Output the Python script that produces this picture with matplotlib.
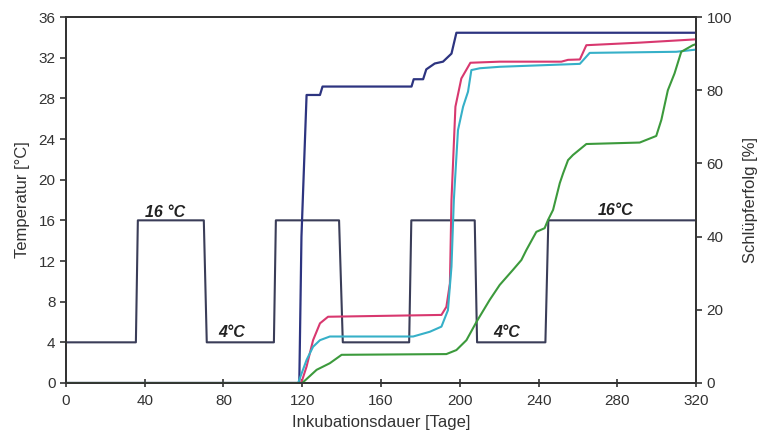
import matplotlib
matplotlib.use("Agg")
import matplotlib.pyplot as plt

plt.rcParams['font.family'] = ['Liberation Sans', 'DejaVu Sans']

# temperature regime (days, degC)
temp_days = [0, 35.5, 36.5, 70, 71.5, 105.6, 106.6, 138.7, 140.6, 174.3, 175.4, 207.6, 208.8, 243.5, 245, 320]
temp_vals = [4, 4, 16, 16, 4, 4, 16, 16, 4, 4, 16, 16, 4, 4, 16, 16]

# hatching success (days, %)
navy_days = [0, 118.5, 119.6, 122.2, 129, 130.3, 175.5, 176.6, 181.4, 183, 187.3, 191.5, 195.8, 198.3, 320]
navy_vals = [0, 0, 40, 78.7, 78.7, 81, 81, 83, 83, 85.7, 87.3, 87.8, 90, 95.7, 95.7]

pink_days = [0, 119.5, 122.2, 125.5, 129, 133.1, 190.7, 193.2, 195, 195.8, 197.8, 200.8, 205.4, 220.3,
             251.6, 255, 261, 264.3, 291.4, 320]
pink_vals = [0, 0, 4.5, 11.7, 16.3, 18.1, 18.6, 20.8, 27.2, 50, 75.5, 83.2, 87.5, 87.8,
             87.8, 88.3, 88.4, 92.3, 93, 93.9]

cyan_days = [0, 117.9, 122.2, 125.5, 129, 134, 176.3, 184.8, 190.7, 194, 195.8, 197, 199.1, 201.7, 204.2,
             205.9, 210.2, 220.3, 261, 266, 310, 320]
cyan_vals = [0, 0, 6.3, 9.9, 11.7, 12.7, 12.7, 14, 15.4, 19.9, 31.8, 50, 69.1, 75.5, 79.6,
             85.5, 86, 86.4, 87.2, 90.2, 90.5, 91.1]

green_days = [0, 120, 127.3, 134, 140, 193.2, 198.3, 203.4, 208.5, 215.2, 220.3, 227, 231.3, 233.8, 238.9,
              243.1, 244.8, 247.4, 250.8, 252.5, 255, 257.5, 264.3, 291.4, 299.8, 302.4, 305.7, 309.1,
              312.5, 318.4, 320]
green_vals = [0, 0, 3.6, 5.4, 7.7, 7.9, 9, 11.7, 16.7, 22.7, 26.8, 30.9, 33.6, 36.3, 41.3,
              42.3, 44.5, 47.3, 54.6, 57.3, 60.9, 62.3, 65.3, 65.7, 67.5, 71.9, 80, 84.6,
              90.5, 92.3, 92.6]

labels = [(50.3, 16.35, "16 °C"), (84.3, 4.55, "4°C"), (223.8, 4.55, "4°C"), (278.9, 16.5, "16°C")]

fig = plt.figure(figsize=(7.62, 4.42), dpi=100)
ax = fig.add_axes([0.0866, 0.1335, 0.8268, 0.828])
ax2 = ax.twinx()

ax.plot(temp_days, temp_vals, color="#3a3d58", lw=1.5, zorder=2)
ax2.plot(navy_days, navy_vals, color="#2d3480", lw=1.6)
ax2.plot(pink_days, pink_vals, color="#d8386f", lw=1.5)
ax2.plot(cyan_days, cyan_vals, color="#36b0c8", lw=1.5)
ax2.plot(green_days, green_vals, color="#3c9a3c", lw=1.5)

for x, y, s in labels:
    ax.text(x, y, s, ha="center", va="baseline", fontsize=11.5, fontweight="bold", fontstyle="italic",
            color="#222222")

ax.set_xlim(0, 320)
ax.set_ylim(0, 36)
ax2.set_ylim(0, 100)
ax.set_xticks(range(0, 321, 40))
ax.set_yticks(range(0, 37, 4))
ax2.set_yticks(range(0, 101, 20))

tick_col = "#333333"
ax.tick_params(axis="x", direction="inout", length=6, width=1.2, colors=tick_col, labelsize=11, pad=5)
ax.tick_params(axis="y", direction="out", length=4, width=1.2, colors=tick_col, labelsize=11)
ax2.tick_params(axis="y", direction="out", length=4, width=1.2, colors=tick_col, labelsize=11)

for a in (ax, ax2):
    for sp in a.spines.values():
        sp.set_color("#333333")
        sp.set_linewidth(1.3)

ax.set_xlabel("Inkubationsdauer [Tage]", fontsize=12, color="#333333", labelpad=5)
ax.set_ylabel("Temperatur [°C]", fontsize=12, color="#333333", labelpad=6)
ax2.set_ylabel("Schlüpferfolg [%]", fontsize=12, color="#333333", labelpad=8)

fig.savefig("out.png", dpi=100)
